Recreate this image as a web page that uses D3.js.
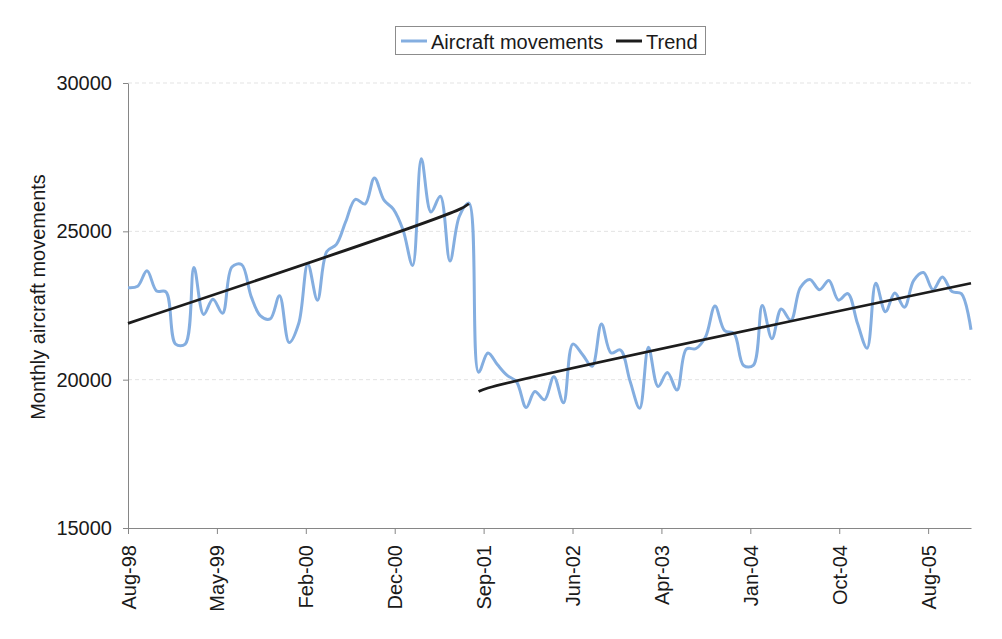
<!DOCTYPE html>
<html>
<head>
<meta charset="utf-8">
<script src="https://cdn.jsdelivr.net/npm/d3@7"></script>
<style>
  html, body { margin: 0; padding: 0; background: #ffffff; }
  svg { display: block; font-family: "Liberation Sans", Arial, sans-serif; }
</style>
</head>
<body>
<svg id="chart" width="1002" height="639"></svg>
<script>
// ---------------- data ----------------
const startMonth = new Date(1998, 7, 1);   // Aug-98, first monthly observation
const movements = [
  23100, 23150, 23670, 22990, 22960, 21200, 21200, 23780, 22200, 22710,
  22240, 23800, 23880, 22800, 22150, 22050, 22830, 21250, 21900, 23900,
  22680, 24320, 24560, 25330, 26080, 25920, 26800, 26050, 25750, 25050,
  23850, 27450, 25650, 26180, 24000, 25500, 25950, 20250, 20900, 20500,
  20150, 19930, 19060, 19600, 19320, 20100, 19220, 21200, 20850, 20450,
  21880, 20900, 21000, 19950, 19040, 21090, 19770, 20240, 19650, 21030,
  21050, 21450, 22480, 21650, 21560, 20480, 20480, 22500, 21380, 22380,
  22000, 23100, 23380, 23030, 23340, 22680, 22900, 21900, 21060, 23250,
  22290, 22920, 22440, 23350, 23610, 23030, 23460, 22970, 22900, 21680
];
const months = movements.map((_, i) => d3.timeMonth.offset(startMonth, i));

// trend segments: month index -> value
const trend1Idx = [0, 35, 36];
const trend1Val = [21900, 25740, 25930];
const trend2Idx = [37, 38, 89];
const trend2Val = [19600, 19720, 23250];

const yTicks = [15000, 20000, 25000, 30000];
const xTickLabels = ["Aug-98", "May-99", "Feb-00", "Dec-00", "Sep-01", "Jun-02", "Apr-03", "Jan-04", "Oct-04", "Aug-05"];
const xTickStepDays = 285.8;   // Excel date-axis major unit

const seriesNames = ["Aircraft movements", "Trend"];
const colors = { movements: "#84aee0", trend: "#1c1c1c", axis: "#868686", grid: "#e3e3e3", text: "#1a1a1a" };

// ---------------- layout ----------------
const svg = d3.select("#chart");
const plotL = 128, plotR = 971, plotT = 83, plotB = 528;

const x = d3.scaleTime()
  .domain([startMonth, d3.timeMonth.offset(startMonth, movements.length - 1)])
  .range([plotL, plotR]);
const y = d3.scaleLinear().domain([15000, 30000]).range([plotB, plotT]);

svg.append("rect").attr("width", 1002).attr("height", 639).attr("fill", "#fff");

// gridlines
svg.append("g").selectAll("line")
  .data(yTicks.filter(v => v > 15000))
  .join("line")
  .attr("x1", plotL).attr("x2", plotR)
  .attr("y1", d => y(d)).attr("y2", d => y(d))
  .attr("stroke", colors.grid).attr("stroke-width", 1)
  .attr("stroke-dasharray", "4,3");

// y axis
const yAxis = svg.append("g")
  .attr("transform", `translate(${plotL},0)`)
  .call(d3.axisLeft(y).tickValues(yTicks).tickFormat(d3.format("d"))
    .tickSize(5).tickSizeOuter(0).tickPadding(11));
yAxis.select(".domain").attr("stroke", colors.axis);
yAxis.selectAll(".tick line").attr("stroke", colors.axis);
yAxis.selectAll("text").attr("font-size", 20).attr("fill", colors.text)
  .attr("font-family", "Liberation Sans, Arial, sans-serif");

// x axis
const tickDates = xTickLabels.map((_, k) => d3.timeHour.offset(startMonth, Math.round(k * xTickStepDays * 24)));
const xAxis = svg.append("g")
  .attr("transform", `translate(0,${plotB})`)
  .call(d3.axisBottom(x).tickValues(tickDates).tickFormat((d, i) => xTickLabels[i])
    .tickSize(6).tickSizeOuter(0));
xAxis.select(".domain").attr("stroke", colors.axis);
xAxis.selectAll(".tick line").attr("stroke", colors.axis);
xAxis.selectAll("text")
  .attr("font-size", 20).attr("fill", colors.text)
  .attr("font-family", "Liberation Sans, Arial, sans-serif")
  .attr("transform", "rotate(-90)")
  .attr("text-anchor", "end")
  .attr("x", -17).attr("y", 0).attr("dy", "0.35em");

// y title
svg.append("text")
  .attr("transform", `translate(45,297) rotate(-90)`)
  .attr("text-anchor", "middle")
  .attr("font-size", 20).attr("fill", colors.text)
  .text("Monthly aircraft movements");

// series
const line = d3.line()
  .x(d => x(d[0])).y(d => y(d[1]))
  .curve(d3.curveCatmullRom.alpha(0.5));

svg.append("path")
  .datum(months.map((m, i) => [m, movements[i]]))
  .attr("d", line)
  .attr("fill", "none").attr("stroke", colors.movements)
  .attr("stroke-width", 3).attr("stroke-linejoin", "round");

[[trend1Idx, trend1Val], [trend2Idx, trend2Val]].forEach(([idx, val]) => {
  svg.append("path")
    .datum(idx.map((k, j) => [months[k], val[j]]))
    .attr("d", line)
    .attr("fill", "none").attr("stroke", colors.trend)
    .attr("stroke-width", 2.8).attr("stroke-linejoin", "round");
});

// legend
const lg = svg.append("g");
lg.append("rect").attr("x", 395.5).attr("y", 26.5).attr("width", 310).attr("height", 28)
  .attr("fill", "#fff").attr("stroke", "#8c8c8c").attr("stroke-width", 1);
const legendItems = [
  { name: seriesNames[0], color: colors.movements, x0: 401 },
  { name: seriesNames[1], color: colors.trend, x0: 616 }
];
legendItems.forEach(it => {
  lg.append("line").attr("x1", it.x0).attr("x2", it.x0 + 26).attr("y1", 41).attr("y2", 41)
    .attr("stroke", it.color).attr("stroke-width", 3);
  lg.append("text").attr("x", it.x0 + 30).attr("y", 49)
    .attr("font-size", 20).attr("fill", colors.text).text(it.name);
});
</script>
</body>
</html>
